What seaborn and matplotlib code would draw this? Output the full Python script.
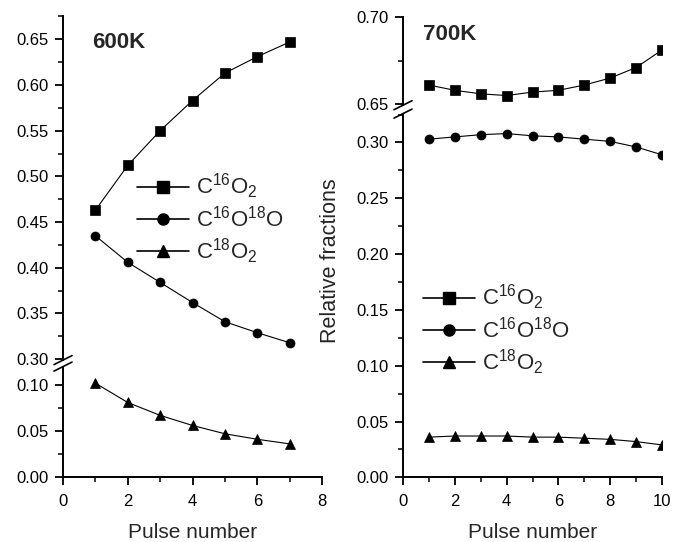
import matplotlib
matplotlib.use("Agg")
import matplotlib.pyplot as plt
import numpy as np
import pandas as pd
import seaborn as sns
from matplotlib.ticker import MultipleLocator, FormatStrFormatter
from matplotlib.lines import Line2D

# ---------------- data ----------------
pulse_600 = [1, 2, 3, 4, 5, 6, 7]
c16o2_600 = [0.463, 0.512, 0.550, 0.583, 0.613, 0.631, 0.647]
c16o18o_600 = [0.435, 0.406, 0.384, 0.362, 0.341, 0.329, 0.318]
c18o2_600 = [0.102, 0.081, 0.067, 0.056, 0.047, 0.041, 0.036]

pulse_700 = [1, 2, 3, 4, 5, 6, 7, 8, 9, 10]
c16o2_700 = [0.661, 0.658, 0.656, 0.655, 0.657, 0.658, 0.661, 0.665, 0.671, 0.681]
c16o18o_700 = [0.303, 0.305, 0.307, 0.308, 0.306, 0.305, 0.303, 0.301, 0.296, 0.289]
c18o2_700 = [0.036, 0.037, 0.037, 0.037, 0.036, 0.036, 0.035, 0.034, 0.032, 0.029]

species = [r"C$^{16}$O$_2$", r"C$^{16}$O$^{18}$O", r"C$^{18}$O$_2$"]
marker_list = ["s", "o", "^"]
panel_titles = ["600K", "700K"]
x_label = "Pulse number"
y_label = "Relative fractions"


def long_df(pulse, cols):
    frames = []
    for name, vals in zip(species, cols):
        frames.append(pd.DataFrame({"pulse": pulse, "value": vals, "species": name}))
    return pd.concat(frames, ignore_index=True)


df600 = long_df(pulse_600, [c16o2_600, c16o18o_600, c18o2_600])
df700 = long_df(pulse_700, [c16o2_700, c16o18o_700, c18o2_700])

# ---------------- style ----------------
sns.set_style("ticks")
plt.rcParams["font.family"] = ["Liberation Sans", "DejaVu Sans"]
plt.rcParams["mathtext.default"] = "regular"

W, H = 673, 542
fig = plt.figure(figsize=(W / 100, H / 100), dpi=100)


def px_axes(x0, x1, ytop, ybot):
    return fig.add_axes([x0 / W, 1 - ybot / H, (x1 - x0) / W, (ybot - ytop) / H])


# left panel (600K): upper 0.299-0.675, lower 0-0.12
axL_up = px_axes(63, 322, 16.45, 360.1)
axL_lo = px_axes(63, 322, 366.6, 477.0)
# right panel (700K): upper 0.6495-0.70, lower 0-0.325
axR_up = px_axes(403, 662, 16.7, 105.2)
axR_lo = px_axes(403, 662, 114.6, 477.3)

mk = dict(zip(species, marker_list))


def draw(ax, df):
    sns.lineplot(data=df, x="pulse", y="value", style="species", markers=mk,
                 dashes=False, color="k", linewidth=0.8, markersize=6.5,
                 markeredgecolor="k", markeredgewidth=0.5, errorbar=None,
                 legend=False, ax=ax, sort=False)


for ax, df in [(axL_up, df600), (axL_lo, df600), (axR_up, df700), (axR_lo, df700)]:
    draw(ax, df)
    ax.set_xlabel("")
    ax.set_ylabel("")
    for s in ["top", "right"]:
        ax.spines[s].set_visible(False)
    for s in ["left", "bottom"]:
        ax.spines[s].set_linewidth(1.4)
        ax.spines[s].set_color("k")
    ax.tick_params(which="major", direction="out", length=6, width=1.3,
                   labelsize=12, colors="k", pad=4.5)
    ax.tick_params(which="minor", direction="out", length=3.5, width=1.1, colors="k")
    ax.yaxis.set_major_formatter(FormatStrFormatter("%.2f"))
    ax.patch.set_alpha(0)

axL_up.set_xlim(0, 8); axL_lo.set_xlim(0, 8)
axR_up.set_xlim(0, 10); axR_lo.set_xlim(0, 10)
axL_up.set_ylim(0.299, 0.675)
axL_lo.set_ylim(0, 0.12)
axR_up.set_ylim(0.6495, 0.70)
axR_lo.set_ylim(0, 0.325)

for ax in [axL_up, axL_lo, axR_up, axR_lo]:
    ax.yaxis.set_major_locator(MultipleLocator(0.05))
    ax.yaxis.set_minor_locator(MultipleLocator(0.025))
    ax.xaxis.set_major_locator(MultipleLocator(2))
    ax.xaxis.set_minor_locator(MultipleLocator(1))

for ax in [axL_up, axR_up]:
    ax.spines["bottom"].set_visible(False)
    ax.tick_params(axis="x", which="both", bottom=False, labelbottom=False)

for ax in [axL_lo, axR_lo]:
    ax.tick_params(axis="x", which="major", pad=6)
    ax.set_xlabel(x_label, fontsize=15, labelpad=10)

# break marks on the y axis
def break_marks(xpix, ys):
    for yp in ys:
        fig.add_artist(Line2D([(xpix - 9) / W, (xpix + 9) / W],
                              [1 - (yp + 4.5) / H, 1 - (yp - 4.5) / H],
                              transform=fig.transFigure, color="k", lw=1.2))

break_marks(63, [360.1, 366.6])
break_marks(403, [105.2, 113.6])

# titles
fig.text(92 / W, 1 - 43 / H, panel_titles[0], fontsize=16, fontweight="bold",
         ha="left", va="center")
fig.text(423 / W, 1 - 34 / H, panel_titles[1], fontsize=16, fontweight="bold",
         ha="left", va="center")

# y label
fig.text(331 / W, 1 - 261 / H, y_label, fontsize=15.5, rotation=90,
         ha="center", va="center")

# legends
handles = [Line2D([], [], color="k", lw=1.2, marker=m, markersize=8,
                  markerfacecolor="k", markeredgecolor="k") for m in marker_list]

legL = fig.legend(handles, species, loc="upper left",
                  bbox_to_anchor=(137 / W, 1 - 172 / H), frameon=False,
                  fontsize=16, handlelength=2.35, handletextpad=0.3,
                  labelspacing=0.2, borderpad=0, borderaxespad=0)
legR = fig.legend(handles, species, loc="upper left",
                  bbox_to_anchor=(423 / W, 1 - 283 / H), frameon=False,
                  fontsize=16, handlelength=2.35, handletextpad=0.3,
                  labelspacing=0.2, borderpad=0, borderaxespad=0)

fig.savefig("out.png", dpi=100)
